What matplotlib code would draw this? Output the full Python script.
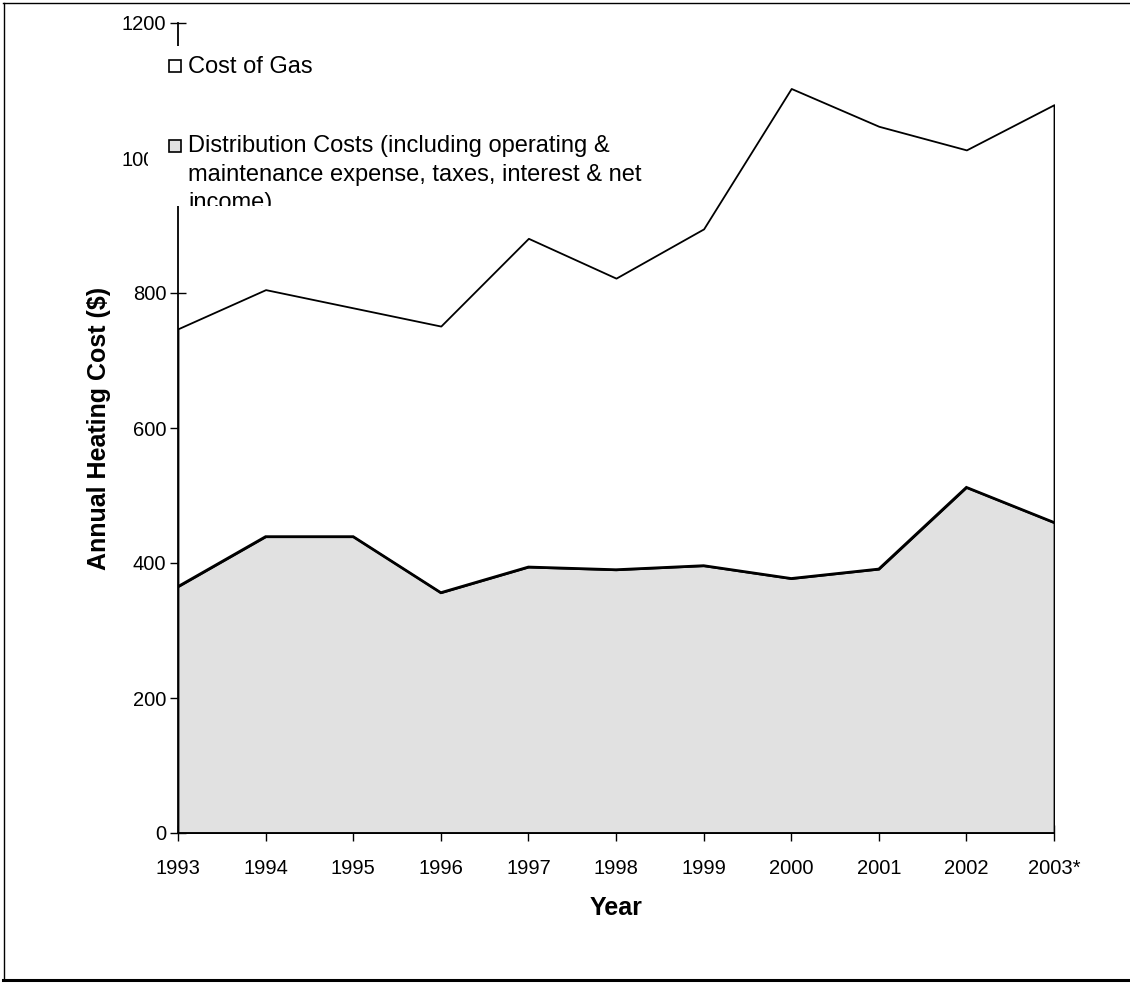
import matplotlib
matplotlib.use("Agg")
import matplotlib.pyplot as plt
from matplotlib.patches import Rectangle
from matplotlib.lines import Line2D

years = ["1993", "1994", "1995", "1996", "1997", "1998",
         "1999", "2000", "2001", "2002", "2003*"]
distribution_costs = [365, 439, 439, 356, 394, 390, 396, 377, 391, 512, 460]
cost_of_gas = [382, 366, 339, 395, 487, 432, 499, 726, 656, 500, 619]
y_ticks = [0, 200, 400, 600, 800, 1000, 1200]

gas_label = "Cost of Gas"
distribution_label_lines = ["Distribution Costs (including operating &",
                            "maintenance expense, taxes, interest & net",
                            "income)"]

plt.rcParams["font.family"] = ["Liberation Sans", "DejaVu Sans"]

W, H = 1130, 983
fig = plt.figure(figsize=(W / 100, H / 100), dpi=100)


def fx(px):
    return px / W


def fy(py):
    return 1 - py / H


ax = fig.add_axes([fx(178), fy(833), fx(1054) - fx(178), fy(23) - fy(833)])

x = list(range(len(years)))
total = [d + g for d, g in zip(distribution_costs, cost_of_gas)]
gray = "#e1e1e1"

ax.fill_between(x, distribution_costs, total, facecolor="white",
                edgecolor="black", linewidth=1.3, zorder=2)
ax.fill_between(x, 0, distribution_costs, facecolor=gray,
                edgecolor="black", linewidth=1.3, zorder=3)
ax.plot(x, distribution_costs, color="black", linewidth=2.0, zorder=4,
        solid_joinstyle="miter")

ax.set_xlim(0, len(years) - 1)
ax.set_ylim(0, 1200)
ax.set_xticks(x)
ax.set_xticklabels(years)
ax.set_yticks(y_ticks)

for side in ("top", "right"):
    ax.spines[side].set_visible(False)
for side in ("left", "bottom"):
    ax.spines[side].set_linewidth(1.3)
    ax.spines[side].set_zorder(5)

ax.tick_params(axis="both", direction="inout", length=11, width=1.0,
               labelsize=14.5, colors="black")
ax.tick_params(axis="x", pad=13)
ax.tick_params(axis="y", pad=3)

ax.set_xlabel("Year", fontsize=18, fontweight="bold", labelpad=13)
ax.set_ylabel("Annual Heating Cost ($)", fontsize=18, fontweight="bold",
              labelpad=8)

# Legend block drawn over the plot, clipped to its own box
box = Rectangle((fx(148), fy(206)), fx(650) - fx(148), fy(46) - fy(206),
                transform=fig.transFigure, facecolor="white",
                edgecolor="none", zorder=10)
fig.patches.append(box)

fig.patches.append(Rectangle((fx(169), fy(72)), fx(12), fy(0) - fy(12),
                             transform=fig.transFigure, facecolor="white",
                             edgecolor="black", linewidth=1.2, zorder=11))
fig.patches.append(Rectangle((fx(169), fy(152)), fx(12), fy(0) - fy(12),
                             transform=fig.transFigure, facecolor=gray,
                             edgecolor="black", linewidth=1.2, zorder=11))

texts = [fig.text(fx(188), fy(73), gas_label, fontsize=17,
                  va="baseline", ha="left", zorder=12)]
for i, line in enumerate(distribution_label_lines):
    texts.append(fig.text(fx(188), fy(152 + 28.5 * i), line, fontsize=17,
                          va="baseline", ha="left", zorder=12))
for t in texts:
    t.set_clip_path(box)
    t.set_clip_on(True)

# Outer frame around the chart
frame_kw = dict(transform=fig.transFigure, color="black", zorder=20)
fig.lines.append(Line2D([fx(3), fx(1130)], [fy(3), fy(3)], linewidth=1.0, **frame_kw))
fig.lines.append(Line2D([fx(3.5), fx(3.5)], [fy(3), fy(980)], linewidth=1.0, **frame_kw))
fig.lines.append(Line2D([fx(3), fx(1130)], [fy(980), fy(980)], linewidth=2.2, **frame_kw))

fig.savefig("out.png", dpi=100)
